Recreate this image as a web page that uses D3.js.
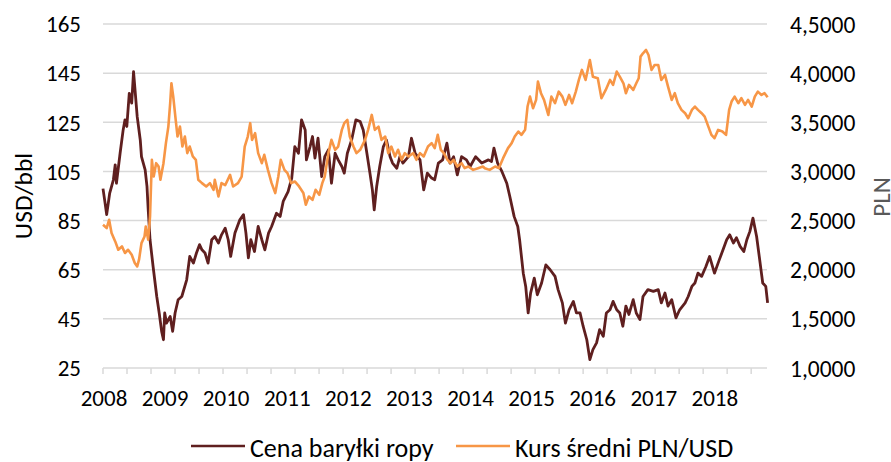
<!DOCTYPE html>
<html>
<head>
<meta charset="utf-8">
<script src="https://cdn.jsdelivr.net/npm/d3@7"></script>
<style>
  body { margin: 0; background: #fff; }
  text { font-family: Carlito, Calibri, Lato, sans-serif; fill: #000; }
</style>
</head>
<body>
<div id="chart"></div>
<script>
// oil price, USD/bbl: [decimal year, value]
const oil = [
  [2008.00, 98], [2008.03, 92.8], [2008.06, 87.4], [2008.11, 96.2], [2008.17, 101.6], [2008.20, 107.7],
  [2008.22, 100.2], [2008.28, 112.4], [2008.33, 121.9], [2008.36, 126], [2008.39, 123.3], [2008.43, 136.8],
  [2008.47, 132.8], [2008.50, 145.6], [2008.52, 139.5], [2008.56, 127.3], [2008.61, 117.8], [2008.63, 111],
  [2008.69, 105.6], [2008.72, 98.9], [2008.74, 89.4], [2008.77, 77.2], [2008.82, 66.3], [2008.88, 54.1],
  [2008.92, 47.4], [2008.96, 39.9], [2008.99, 36.5], [2009.01, 47.4], [2009.04, 43.3], [2009.10, 46],
  [2009.14, 39.9], [2009.18, 47.4], [2009.23, 52.8], [2009.29, 54.1], [2009.37, 60.9], [2009.42, 70.4],
  [2009.48, 67.7], [2009.53, 71.8], [2009.58, 75.2], [2009.62, 73.1], [2009.67, 71.8], [2009.72, 67.7],
  [2009.78, 77.2], [2009.83, 78.5], [2009.89, 75.9], [2009.94, 79.2], [2010.00, 81.9], [2010.05, 77.2],
  [2010.09, 70.4], [2010.16, 79.9], [2010.24, 85.3], [2010.30, 87.4], [2010.34, 79.9], [2010.38, 69.8],
  [2010.42, 77.2], [2010.48, 72.4], [2010.54, 82.6], [2010.60, 77.2], [2010.65, 73.1], [2010.71, 79.9],
  [2010.76, 82.6], [2010.84, 88], [2010.90, 86.7], [2010.95, 92.8], [2011.03, 96.8], [2011.09, 102.3],
  [2011.14, 115.1], [2011.20, 112.4], [2011.25, 126], [2011.31, 121.9], [2011.33, 109.7], [2011.39, 115.1],
  [2011.43, 119.2], [2011.47, 110.4], [2011.52, 118.5], [2011.58, 102.9], [2011.63, 111], [2011.69, 113.8],
  [2011.74, 100.2], [2011.80, 112.4], [2011.85, 109.7], [2011.91, 107], [2011.95, 104.3], [2012.00, 112.4],
  [2012.07, 117.8], [2012.14, 126], [2012.21, 125.3], [2012.26, 121.9], [2012.32, 112.4], [2012.37, 104.3],
  [2012.41, 97.5], [2012.44, 89.4], [2012.48, 98.9], [2012.53, 107], [2012.59, 115.1], [2012.64, 117.8],
  [2012.70, 111], [2012.74, 108.4], [2012.81, 106.3], [2012.86, 111], [2012.91, 108.4], [2013.00, 111],
  [2013.05, 118.5], [2013.11, 112.4], [2013.19, 109.7], [2013.25, 97.5], [2013.31, 104.3], [2013.38, 102.3],
  [2013.43, 101.6], [2013.49, 108.4], [2013.56, 109.7], [2013.63, 116.5], [2013.68, 108.4], [2013.74, 111],
  [2013.80, 103.6], [2013.87, 111], [2013.95, 109.7], [2014.01, 107], [2014.10, 111], [2014.20, 108.4],
  [2014.31, 109.7], [2014.36, 109], [2014.40, 114.5], [2014.46, 108.4], [2014.53, 105], [2014.61, 100.2],
  [2014.66, 94.8], [2014.73, 86.7], [2014.79, 82.6], [2014.82, 77.2], [2014.88, 63.6], [2014.92, 58.2],
  [2014.96, 47.4], [2015.00, 55.5], [2015.06, 61.6], [2015.11, 54.8], [2015.18, 59.6], [2015.25, 67],
  [2015.32, 65], [2015.40, 62.3], [2015.45, 56.9], [2015.52, 51.5], [2015.57, 43.3], [2015.63, 48.7],
  [2015.70, 52.1], [2015.75, 47.4], [2015.81, 47.4], [2015.86, 42], [2015.92, 36.5], [2015.97, 28.4],
  [2016.02, 32.5], [2016.08, 35.2], [2016.13, 40.6], [2016.19, 37.9], [2016.24, 47.4], [2016.30, 48.7],
  [2016.35, 52.1], [2016.41, 48.7], [2016.46, 47.4], [2016.51, 42], [2016.56, 50.2], [2016.61, 46.8],
  [2016.68, 52.8], [2016.73, 47.4], [2016.79, 44.7], [2016.84, 54.1], [2016.92, 56.9], [2017.01, 56.2],
  [2017.09, 56.9], [2017.14, 51.5], [2017.20, 55.5], [2017.25, 50.2], [2017.31, 52.8], [2017.38, 45.4],
  [2017.44, 48.7], [2017.53, 51.5], [2017.58, 54.1], [2017.64, 58.2], [2017.69, 59.6], [2017.74, 63.6],
  [2017.80, 62.3], [2017.87, 66.3], [2017.93, 70.4], [2018.01, 63.6], [2018.09, 69.1], [2018.15, 73.1],
  [2018.21, 77.2], [2018.26, 79.2], [2018.32, 75.9], [2018.37, 78], [2018.43, 74.5], [2018.49, 72.4],
  [2018.54, 77.2], [2018.59, 80.6], [2018.64, 86], [2018.70, 78.5], [2018.75, 69.1], [2018.80, 59.6],
  [2018.85, 58.2], [2018.88, 51.5]
];

// average PLN/USD rate: [decimal year, value]
const pln = [
  [2008.00, 2.457], [2008.06, 2.424], [2008.10, 2.508], [2008.14, 2.373], [2008.20, 2.288], [2008.25, 2.203],
  [2008.31, 2.237], [2008.36, 2.170], [2008.41, 2.203], [2008.47, 2.152], [2008.52, 2.068], [2008.56, 2.034],
  [2008.59, 2.102], [2008.63, 2.271], [2008.68, 2.338], [2008.70, 2.440], [2008.74, 2.305], [2008.77, 2.542],
  [2008.80, 3.118], [2008.83, 2.948], [2008.87, 3.084], [2008.91, 3.050], [2008.94, 2.915], [2008.99, 3.084],
  [2009.03, 3.288], [2009.07, 3.456], [2009.10, 3.694], [2009.12, 3.897], [2009.15, 3.761], [2009.19, 3.524],
  [2009.22, 3.355], [2009.26, 3.456], [2009.30, 3.253], [2009.34, 3.355], [2009.38, 3.186], [2009.42, 3.253],
  [2009.47, 3.152], [2009.52, 3.118], [2009.56, 2.915], [2009.62, 2.881], [2009.69, 2.847], [2009.75, 2.881],
  [2009.81, 2.813], [2009.83, 2.915], [2009.89, 2.745], [2009.94, 2.881], [2010.00, 2.860], [2010.08, 2.965],
  [2010.13, 2.847], [2010.21, 2.881], [2010.27, 2.948], [2010.32, 3.253], [2010.37, 3.355], [2010.41, 3.491],
  [2010.44, 3.321], [2010.49, 3.389], [2010.54, 3.186], [2010.60, 3.084], [2010.64, 3.169], [2010.70, 3.016],
  [2010.76, 2.881], [2010.82, 2.780], [2010.87, 2.948], [2010.91, 3.118], [2010.97, 3.016], [2011.02, 2.983],
  [2011.08, 2.881], [2011.14, 2.898], [2011.21, 2.847], [2011.28, 2.780], [2011.32, 2.661], [2011.37, 2.745],
  [2011.43, 2.711], [2011.48, 2.813], [2011.54, 2.762], [2011.59, 2.881], [2011.63, 2.948], [2011.69, 3.186],
  [2011.74, 3.321], [2011.80, 3.220], [2011.85, 3.253], [2011.91, 3.423], [2011.95, 3.491], [2012.00, 3.524],
  [2012.04, 3.355], [2012.10, 3.253], [2012.15, 3.186], [2012.21, 3.220], [2012.29, 3.321], [2012.34, 3.423],
  [2012.40, 3.575], [2012.45, 3.423], [2012.51, 3.456], [2012.56, 3.321], [2012.62, 3.355], [2012.67, 3.186],
  [2012.72, 3.253], [2012.78, 3.152], [2012.83, 3.220], [2012.89, 3.118], [2012.94, 3.186], [2013.00, 3.152],
  [2013.08, 3.186], [2013.13, 3.118], [2013.19, 3.186], [2013.25, 3.152], [2013.32, 3.253], [2013.38, 3.288],
  [2013.43, 3.237], [2013.48, 3.372], [2013.53, 3.220], [2013.58, 3.186], [2013.64, 3.118], [2013.69, 3.084],
  [2013.74, 3.118], [2013.80, 3.050], [2013.87, 3.084], [2013.92, 3.033], [2013.98, 3.050], [2014.06, 3.016],
  [2014.14, 3.033], [2014.22, 3.050], [2014.25, 3.033], [2014.33, 3.016], [2014.42, 3.050], [2014.48, 3.033],
  [2014.55, 3.135], [2014.63, 3.237], [2014.69, 3.288], [2014.74, 3.355], [2014.80, 3.406], [2014.85, 3.372],
  [2014.91, 3.423], [2014.95, 3.660], [2014.99, 3.761], [2015.04, 3.643], [2015.09, 3.728], [2015.12, 3.914],
  [2015.17, 3.796], [2015.22, 3.728], [2015.29, 3.575], [2015.34, 3.761], [2015.40, 3.694], [2015.46, 3.812],
  [2015.52, 3.761], [2015.57, 3.677], [2015.63, 3.778], [2015.68, 3.694], [2015.74, 3.812], [2015.79, 3.931],
  [2015.84, 4.033], [2015.90, 3.931], [2015.97, 4.134], [2016.02, 3.964], [2016.10, 3.948], [2016.16, 3.745],
  [2016.23, 3.829], [2016.30, 3.931], [2016.35, 3.880], [2016.41, 4.016], [2016.46, 3.964], [2016.52, 3.897],
  [2016.56, 3.796], [2016.61, 3.880], [2016.68, 3.829], [2016.73, 3.897], [2016.77, 3.948], [2016.80, 4.168],
  [2016.84, 4.202], [2016.89, 4.236], [2016.93, 4.185], [2016.98, 4.033], [2017.03, 4.083], [2017.09, 4.083],
  [2017.14, 3.931], [2017.20, 3.982], [2017.25, 3.863], [2017.31, 3.728], [2017.36, 3.796], [2017.41, 3.694],
  [2017.47, 3.626], [2017.53, 3.592], [2017.58, 3.541], [2017.64, 3.626], [2017.69, 3.660], [2017.74, 3.626],
  [2017.80, 3.592], [2017.85, 3.558], [2017.91, 3.456], [2017.96, 3.372], [2018.01, 3.338], [2018.07, 3.423],
  [2018.14, 3.406], [2018.20, 3.372], [2018.25, 3.626], [2018.29, 3.711], [2018.34, 3.761], [2018.40, 3.694],
  [2018.45, 3.745], [2018.51, 3.677], [2018.56, 3.728], [2018.62, 3.660], [2018.67, 3.761], [2018.72, 3.812],
  [2018.78, 3.778], [2018.83, 3.796], [2018.88, 3.755]
];

const yearLabels = ["2008", "2009", "2010", "2011", "2012", "2013", "2014", "2015", "2016", "2017", "2018"];
const leftTicks = [25, 45, 65, 85, 105, 125, 145, 165];
const rightTicks = [1, 1.5, 2, 2.5, 3, 3.5, 4, 4.5];
const seriesNames = ["Cena baryłki ropy", "Kurs średni PLN/USD"];
const colors = ["#5f1f1f", "#f79646"];

const W = 891, H = 462;
const m = { left: 103, right: 124, top: 24, bottom: 94 };

const svg = d3.select("#chart").append("svg")
  .attr("width", W).attr("height", H);

const x = d3.scaleLinear().domain([2008, 2018.87]).range([m.left, W - m.right]);
const yL = d3.scaleLinear().domain([25, 165]).range([H - m.bottom, m.top]);
const yR = d3.scaleLinear().domain([1, 4.5]).range([H - m.bottom, m.top]);

// gridlines
svg.append("g")
  .selectAll("line")
  .data(leftTicks)
  .join("line")
  .attr("x1", m.left).attr("x2", W - m.right)
  .attr("y1", d => yL(d)).attr("y2", d => yL(d))
  .attr("stroke", "#d9d9d9").attr("stroke-width", 1.5);

// x tick marks, every ~100 sessions
const tickStep = 0.393;
const xTicks = d3.range(2008, 2018.88, tickStep);
svg.append("g")
  .selectAll("line")
  .data(xTicks)
  .join("line")
  .attr("x1", d => x(d)).attr("x2", d => x(d))
  .attr("y1", yL(25)).attr("y2", yL(25) + 6)
  .attr("stroke", "#d9d9d9").attr("stroke-width", 1.5);

// year labels
svg.append("g")
  .selectAll("text")
  .data(yearLabels)
  .join("text")
  .attr("x", d => x(+d) + 1)
  .attr("y", 406)
  .attr("text-anchor", "middle")
  .style("font-size", "23px")
  .text(d => d);

// left axis
const leftAxis = d3.axisLeft(yL).tickValues(leftTicks).tickSize(0).tickPadding(0);
const gl = svg.append("g").attr("transform", `translate(81,0)`).call(leftAxis);
gl.select(".domain").remove();
gl.selectAll("text").style("font-size", "23px").attr("font-family", null).attr("dy", "0.34em");

// right axis
const rightAxis = d3.axisRight(yR).tickValues(rightTicks).tickSize(0).tickPadding(0)
  .tickFormat(d => d3.format(".4f")(d).replace(".", ","));
const gr = svg.append("g").attr("transform", `translate(790,0)`).call(rightAxis);
gr.select(".domain").remove();
gr.selectAll("text").style("font-size", "23.5px").attr("font-family", null).attr("dy", "0.34em");

// axis titles
svg.append("text")
  .attr("transform", `translate(32,${(yL(25) + yL(165)) / 2}) rotate(-90)`)
  .attr("text-anchor", "middle")
  .style("font-size", "25.5px")
  .text("USD/bbl");
svg.append("text")
  .attr("transform", `translate(890,197) rotate(-90)`)
  .attr("text-anchor", "middle")
  .style("font-size", "25px")
  .style("fill", "#595959")
  .text("PLN");

// lines
const lineL = d3.line().x(d => x(d[0])).y(d => yL(d[1]));
const lineR = d3.line().x(d => x(d[0])).y(d => yR(d[1]));
svg.append("path").datum(oil)
  .attr("d", lineL).attr("fill", "none")
  .attr("stroke", colors[0]).attr("stroke-width", 2.8).attr("stroke-linejoin", "round");
svg.append("path").datum(pln)
  .attr("d", lineR).attr("fill", "none")
  .attr("stroke", colors[1]).attr("stroke-width", 2.6).attr("stroke-linejoin", "round");

// legend
const legendX = [191, 456];
const lg = svg.append("g").selectAll("g")
  .data(seriesNames)
  .join("g")
  .attr("transform", (d, i) => `translate(${legendX[i]},0)`);
lg.append("line")
  .attr("x1", 0).attr("x2", 54)
  .attr("y1", 446).attr("y2", 446)
  .attr("stroke", (d, i) => colors[i]).attr("stroke-width", 2.6);
lg.append("text")
  .attr("x", 59).attr("y", 457)
  .style("font-size", "26px")
  .text(d => d);
</script>
</body>
</html>
